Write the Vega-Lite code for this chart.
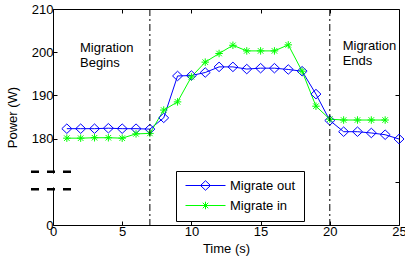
{
  "$schema": "https://vega.github.io/schema/vega-lite/v6.json",
  "width": 346,
  "height": 216,
  "autosize": {"type": "none"},
  "padding": {"left": 53, "top": 9, "right": 6, "bottom": 41},
  "config": {
    "font": "Liberation Sans",
    "view": {"stroke": "black", "strokeWidth": 1},
    "axis": {
      "labelFont": "Liberation Sans", "labelFontSize": 13, "labelColor": "black",
      "titleFont": "Liberation Sans", "titleFontSize": 13, "titleFontWeight": "normal", "titleColor": "black",
      "domain": false, "grid": false, "tickColor": "black", "tickSize": -4, "tickWidth": 1,
      "labelFlush": false, "labelOverlap": false
    }
  },
  "datasets": {
    "series": [
      {"t": 1, "p": 182.3, "s": "Migrate out"}, {"t": 2, "p": 182.3, "s": "Migrate out"}, {"t": 3, "p": 182.3, "s": "Migrate out"},
      {"t": 4, "p": 182.4, "s": "Migrate out"}, {"t": 5, "p": 182.3, "s": "Migrate out"}, {"t": 6, "p": 182.3, "s": "Migrate out"},
      {"t": 7, "p": 182.2, "s": "Migrate out"}, {"t": 8, "p": 184.8, "s": "Migrate out"}, {"t": 9, "p": 194.5, "s": "Migrate out"},
      {"t": 10, "p": 194.6, "s": "Migrate out"}, {"t": 11, "p": 195.3, "s": "Migrate out"}, {"t": 12, "p": 196.6, "s": "Migrate out"},
      {"t": 13, "p": 196.6, "s": "Migrate out"}, {"t": 14, "p": 196.1, "s": "Migrate out"}, {"t": 15, "p": 196.3, "s": "Migrate out"},
      {"t": 16, "p": 196.3, "s": "Migrate out"}, {"t": 17, "p": 196.0, "s": "Migrate out"}, {"t": 18, "p": 195.6, "s": "Migrate out"},
      {"t": 19, "p": 190.3, "s": "Migrate out"}, {"t": 20, "p": 184.2, "s": "Migrate out"}, {"t": 21, "p": 181.6, "s": "Migrate out"},
      {"t": 22, "p": 181.6, "s": "Migrate out"}, {"t": 23, "p": 181.3, "s": "Migrate out"}, {"t": 24, "p": 180.9, "s": "Migrate out"},
      {"t": 25, "p": 179.9, "s": "Migrate out"},
      {"t": 1, "p": 180.1, "s": "Migrate in"}, {"t": 2, "p": 180.1, "s": "Migrate in"}, {"t": 3, "p": 180.2, "s": "Migrate in"},
      {"t": 4, "p": 180.2, "s": "Migrate in"}, {"t": 5, "p": 180.1, "s": "Migrate in"}, {"t": 6, "p": 181.1, "s": "Migrate in"},
      {"t": 7, "p": 181.2, "s": "Migrate in"}, {"t": 8, "p": 186.6, "s": "Migrate in"}, {"t": 9, "p": 188.5, "s": "Migrate in"},
      {"t": 10, "p": 194.3, "s": "Migrate in"}, {"t": 11, "p": 197.7, "s": "Migrate in"}, {"t": 12, "p": 199.7, "s": "Migrate in"},
      {"t": 13, "p": 201.6, "s": "Migrate in"}, {"t": 14, "p": 200.3, "s": "Migrate in"}, {"t": 15, "p": 200.3, "s": "Migrate in"},
      {"t": 16, "p": 200.3, "s": "Migrate in"}, {"t": 17, "p": 201.7, "s": "Migrate in"}, {"t": 18, "p": 195.6, "s": "Migrate in"},
      {"t": 19, "p": 187.5, "s": "Migrate in"}, {"t": 20, "p": 184.5, "s": "Migrate in"}, {"t": 21, "p": 184.3, "s": "Migrate in"},
      {"t": 22, "p": 184.3, "s": "Migrate in"}, {"t": 23, "p": 184.3, "s": "Migrate in"}, {"t": 24, "p": 184.3, "s": "Migrate in"}
    ],
    "vlines": [{"t": 7}, {"t": 20}],
    "notes": [
      {"t": 1.95, "p": 200.0, "label": "Migration\nBegins"},
      {"t": 20.93, "p": 200.6, "label": "Migration\nEnds"}
    ],
    "breaks": [{"p": 172.3}, {"p": 168.3}]
  },
  "layer": [
    {
      "data": {"name": "series"},
      "mark": {"type": "line", "strokeWidth": 1},
      "encoding": {
        "x": {"field": "t", "type": "quantitative", "scale": {"domain": [0, 25], "nice": false, "zero": false},
              "axis": {"orient": "bottom", "title": "Time (s)", "values": [0, 5, 10, 15, 20, 25], "labelPadding": 4, "titlePadding": 4}},
        "y": {"field": "p", "type": "quantitative", "scale": {"domain": [160, 210], "nice": false, "zero": false},
              "axis": {"orient": "left", "title": "Power (W)", "values": [160, 180, 190, 200, 210], "labelExpr": "datum.value == 160 ? '0' : datum.label", "labelPadding": 4, "titlePadding": 12}},
        "color": {"field": "s", "type": "nominal",
                  "scale": {"domain": ["Migrate out", "Migrate in"], "range": ["#0000ff", "#00ff00"]},
                  "legend": {
                    "title": null, "orient": "none", "legendX": 123, "legendY": 162,
                    "strokeColor": "black", "fillColor": "white", "padding": 8, "cornerRadius": 0,
                    "labelFont": "Liberation Sans", "labelFontSize": 13, "labelColor": "black",
                    "symbolSize": 100, "labelOffset": 33, "rowPadding": 6, "symbolStrokeWidth": 1,
                    "encode": {"symbols": {"update": {
                      "shape": {"signal": "datum.value === 'Migrate out' ? 'M-1,0L7,0M2,0L3,-0.95L4,0L3,0.95Z' : 'M-1,0L7,0M2.25,0L3.75,0M3,-0.75L3,0.75M2.45,-0.55L3.55,0.55M2.45,0.55L3.55,-0.55'"},
                      "fill": {"value": "transparent"}
                    }}}
                  }}
      }
    },
    {
      "data": {"name": "series"},
      "mark": {"type": "point", "filled": false, "strokeWidth": 1, "size": 100, "opacity": 1},
      "encoding": {
        "x": {"field": "t", "type": "quantitative", "axis": null},
        "y": {"field": "p", "type": "quantitative", "axis": null},
        "color": {"field": "s", "type": "nominal"},
        "shape": {"condition": {"test": "datum.s === 'Migrate out'", "value": "M-1,0L0,-0.95L1,0L0,0.95Z"},
                  "value": "M-0.75,0L0.75,0M0,-0.75L0,0.75M-0.55,-0.55L0.55,0.55M-0.55,0.55L0.55,-0.55"}
      }
    },
    {
      "data": {"name": "vlines"},
      "mark": {"type": "rule", "color": "black", "strokeWidth": 1, "strokeDash": [7, 3, 2, 3]},
      "encoding": {
        "x": {"field": "t", "type": "quantitative",
              "axis": {"orient": "top", "labels": false, "title": null, "values": [0, 5, 10, 15, 20, 25]}}
      }
    },
    {
      "data": {"name": "notes"},
      "mark": {"type": "text", "align": "left", "baseline": "alphabetic", "lineBreak": "\n", "lineHeight": 15, "fontSize": 13, "font": "Liberation Sans", "color": "black"},
      "encoding": {
        "x": {"field": "t", "type": "quantitative", "axis": null},
        "y": {"field": "p", "type": "quantitative",
              "axis": {"orient": "right", "labels": false, "title": null, "values": [170, 190]}},
        "text": {"field": "label", "type": "nominal"}
      }
    },
    {
      "data": {"values": [{}]},
      "mark": {"type": "rule", "color": "white", "strokeWidth": 3},
      "encoding": {
        "x": {"datum": 0, "type": "quantitative", "axis": null},
        "y": {"datum": 168.7, "type": "quantitative", "axis": null},
        "y2": {"datum": 171.9}
      }
    },
    {
      "data": {"name": "breaks"},
      "mark": {"type": "rule", "color": "black", "strokeWidth": 2.5, "strokeDash": [8, 8]},
      "encoding": {
        "x": {"datum": -1.59, "type": "quantitative", "axis": null},
        "x2": {"datum": 1.38},
        "y": {"field": "p", "type": "quantitative", "axis": null}
      }
    }
  ],
  "resolve": {"axis": {"x": "independent", "y": "independent"}}
}
